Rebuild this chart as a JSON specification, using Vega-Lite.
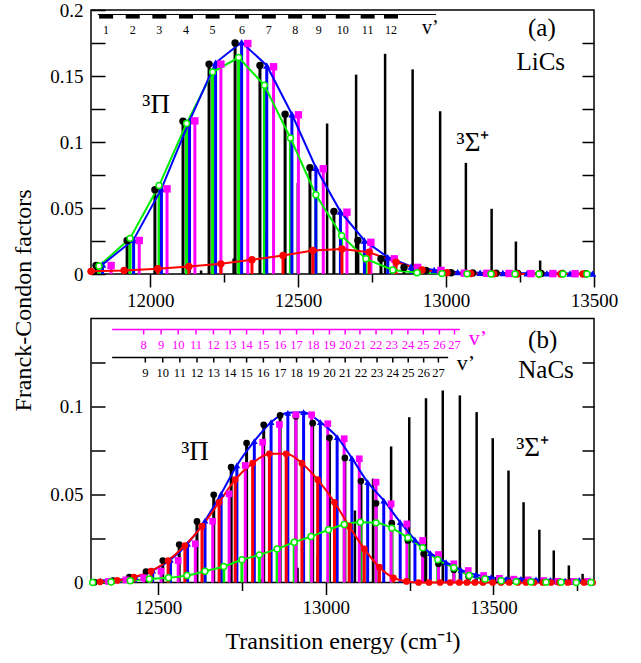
{
"$schema":"https://vega.github.io/schema/vega-lite/v6.json",
"padding":{"left":10,"top":0,"right":10,"bottom":3},
"background":"white",
"config":{"font":"Liberation Serif, Times New Roman, serif","view":{"stroke":"#000","strokeWidth":1.5},
"axis":{"domain":false,"grid":false,"tickColor":"#000","tickWidth":1.5,"labelFont":"Liberation Serif, Times New Roman, serif","labelFontSize":19,"labelColor":"#000","titleFont":"Liberation Serif, Times New Roman, serif","titleColor":"#000","titleFontWeight":"normal","labelFlush":false,"labelOverlap":false},
"text":{"font":"Liberation Serif, Times New Roman, serif","color":"#000"}},
"datasets":{
"a":[
{"s":"black","E":11817,"f":0.0064},{"s":"black","E":11922,"f":0.0254},{"s":"black","E":12016,"f":0.0638},{"s":"black","E":12111,"f":0.1158},{"s":"black","E":12199,"f":0.159},{"s":"black","E":12287,"f":0.175},{"s":"black","E":12371,"f":0.158},{"s":"black","E":12456,"f":0.121},{"s":"black","E":12540,"f":0.0805},{"s":"black","E":12621,"f":0.0473},{"s":"black","E":12702,"f":0.0254},{"s":"black","E":12780,"f":0.0115},{"s":"black","E":12858,"f":0.005},{"s":"black","E":12932,"f":0.0027},{"s":"black","E":13017,"f":0.001},{"s":"black","E":13090,"f":0.0008},{"s":"black","E":13169,"f":0.0006},{"s":"black","E":13242,"f":0.0005},{"s":"black","E":13321,"f":0.0004},{"s":"black","E":13394,"f":0.0003},{"s":"black","E":13473,"f":0.0002},
{"s":"green","E":11827,"f":0.006},{"s":"green","E":11932,"f":0.027},{"s":"green","E":12030,"f":0.067},{"s":"green","E":12123,"f":0.114},{"s":"green","E":12211,"f":0.153},{"s":"green","E":12299,"f":0.164},{"s":"green","E":12386,"f":0.143},{"s":"green","E":12474,"f":0.103},{"s":"green","E":12560,"f":0.06},{"s":"green","E":12647,"f":0.029},{"s":"green","E":12729,"f":0.0115},{"s":"green","E":12820,"f":0.003},{"s":"green","E":12902,"f":0.001},{"s":"green","E":12986,"f":0.0003},{"s":"green","E":13071,"f":0.0001},{"s":"green","E":13152,"f":0},{"s":"green","E":13233,"f":0},{"s":"green","E":13314,"f":0},{"s":"green","E":13395,"f":0},{"s":"green","E":13476,"f":0},
{"s":"blue","E":11839,"f":0.0072},{"s":"blue","E":11944,"f":0.026},{"s":"blue","E":12038,"f":0.0645},{"s":"blue","E":12133,"f":0.116},{"s":"blue","E":12221,"f":0.16},{"s":"blue","E":12309,"f":0.1756},{"s":"blue","E":12394,"f":0.158},{"s":"blue","E":12479,"f":0.121},{"s":"blue","E":12560,"f":0.0805},{"s":"blue","E":12643,"f":0.0473},{"s":"blue","E":12724,"f":0.0254},{"s":"blue","E":12803,"f":0.0127},{"s":"blue","E":12882,"f":0.0057},{"s":"blue","E":12960,"f":0.003},{"s":"blue","E":13039,"f":0.0014},{"s":"blue","E":13115,"f":0.001},{"s":"blue","E":13192,"f":0.0008},{"s":"blue","E":13274,"f":0.0006},{"s":"blue","E":13341,"f":0.0005},{"s":"blue","E":13419,"f":0.0004},{"s":"blue","E":13495,"f":0.0003},
{"s":"magenta","E":11868,"f":0.0064},{"s":"magenta","E":11963,"f":0.0254},{"s":"magenta","E":12057,"f":0.0645},{"s":"magenta","E":12151,"f":0.116},{"s":"magenta","E":12239,"f":0.159},{"s":"magenta","E":12330,"f":0.1746},{"s":"magenta","E":12417,"f":0.157},{"s":"magenta","E":12501,"f":0.1206},{"s":"magenta","E":12585,"f":0.0797},{"s":"magenta","E":12665,"f":0.0468},{"s":"magenta","E":12746,"f":0.024},{"s":"magenta","E":12825,"f":0.0115},{"s":"magenta","E":12904,"f":0.005},{"s":"magenta","E":12983,"f":0.0027},{"s":"magenta","E":13062,"f":0.0006},{"s":"magenta","E":13138,"f":0.0005},{"s":"magenta","E":13213,"f":0.0004},{"s":"magenta","E":13287,"f":0.0003},{"s":"magenta","E":13361,"f":0.0003},{"s":"magenta","E":13436,"f":0.0002},
{"s":"red","E":11800,"f":0.002},{"s":"red","E":11912,"f":0.0027},{"s":"red","E":12026,"f":0.004},{"s":"red","E":12131,"f":0.0057},{"s":"red","E":12239,"f":0.0077},{"s":"red","E":12344,"f":0.0108},{"s":"red","E":12449,"f":0.014},{"s":"red","E":12550,"f":0.0178},{"s":"red","E":12648,"f":0.019},{"s":"red","E":12740,"f":0.0165},{"s":"red","E":12831,"f":0.009},{"s":"red","E":12919,"f":0.003},{"s":"red","E":13003,"f":0.001},{"s":"red","E":13084,"f":0.0003},{"s":"red","E":13162,"f":0.0001},{"s":"red","E":13240,"f":0},{"s":"red","E":13314,"f":0},{"s":"red","E":13388,"f":0},{"s":"red","E":13463,"f":0},
{"s":"sigma","E":12172,"f":0.0027},{"s":"sigma","E":12282,"f":0.0117},{"s":"sigma","E":12391,"f":0.032},{"s":"sigma","E":12499,"f":0.069},{"s":"sigma","E":12598,"f":0.114},{"s":"sigma","E":12696,"f":0.151},{"s":"sigma","E":12794,"f":0.1668},{"s":"sigma","E":12887,"f":0.155},{"s":"sigma","E":12980,"f":0.1233},{"s":"sigma","E":13067,"f":0.0842},{"s":"sigma","E":13154,"f":0.0494},{"s":"sigma","E":13236,"f":0.0246},{"s":"sigma","E":13318,"f":0.0102},{"s":"sigma","E":13394,"f":0.0032},{"s":"sigma","E":13466,"f":0.001}
],
"av":[{"E":11851,"t":"1"},{"E":11941,"t":"2"},{"E":12031,"t":"3"},{"E":12121,"t":"4"},{"E":12211,"t":"5"},{"E":12310,"t":"6"},{"E":12401,"t":"7"},{"E":12490,"t":"8"},{"E":12570,"t":"9"},{"E":12651,"t":"10"},{"E":12735,"t":"11"},{"E":12814,"t":"12"}],
"b":[
{"s":"black","E":12310,"f":0.0002},{"s":"black","E":12365,"f":0.0011},{"s":"black","E":12414,"f":0.003},{"s":"black","E":12464,"f":0.0062},{"s":"black","E":12514,"f":0.0125},{"s":"black","E":12563,"f":0.0216},{"s":"black","E":12616,"f":0.0347},{"s":"black","E":12666,"f":0.0498},{"s":"black","E":12718,"f":0.0655},{"s":"black","E":12764,"f":0.0792},{"s":"black","E":12815,"f":0.0896},{"s":"black","E":12864,"f":0.0949},{"s":"black","E":12911,"f":0.0945},{"s":"black","E":12961,"f":0.0905},{"s":"black","E":13011,"f":0.0822},{"s":"black","E":13057,"f":0.0708},{"s":"black","E":13105,"f":0.0576},{"s":"black","E":13150,"f":0.045},{"s":"black","E":13197,"f":0.0337},{"s":"black","E":13245,"f":0.0239},{"s":"black","E":13292,"f":0.0163},{"s":"black","E":13336,"f":0.0106},{"s":"black","E":13382,"f":0.0072},{"s":"black","E":13426,"f":0.0034},{"s":"black","E":13469,"f":0.002},{"s":"black","E":13514,"f":0.0015},{"s":"black","E":13559,"f":0.0012},{"s":"black","E":13603,"f":0.001},{"s":"black","E":13645,"f":0.0008},{"s":"black","E":13690,"f":0.0006},{"s":"black","E":13732,"f":0.0005},{"s":"black","E":13776,"f":0.0004},
{"s":"green","E":12305,"f":0},{"s":"green","E":12360,"f":0.0003},{"s":"green","E":12417,"f":0.001},{"s":"green","E":12474,"f":0.002},{"s":"green","E":12531,"f":0.0027},{"s":"green","E":12586,"f":0.004},{"s":"green","E":12640,"f":0.0064},{"s":"green","E":12696,"f":0.0091},{"s":"green","E":12750,"f":0.0129},{"s":"green","E":12802,"f":0.0157},{"s":"green","E":12855,"f":0.0191},{"s":"green","E":12906,"f":0.0229},{"s":"green","E":12956,"f":0.0261},{"s":"green","E":13008,"f":0.03},{"s":"green","E":13055,"f":0.033},{"s":"green","E":13103,"f":0.0343},{"s":"green","E":13150,"f":0.0339},{"s":"green","E":13197,"f":0.0309},{"s":"green","E":13245,"f":0.0254},{"s":"green","E":13289,"f":0.0197},{"s":"green","E":13334,"f":0.0129},{"s":"green","E":13382,"f":0.0084},{"s":"green","E":13428,"f":0.004},{"s":"green","E":13475,"f":0.002},{"s":"green","E":13523,"f":0.001},{"s":"green","E":13568,"f":0.0005},{"s":"green","E":13612,"f":0.0003},{"s":"green","E":13657,"f":0.0002},{"s":"green","E":13702,"f":0.0001},{"s":"green","E":13747,"f":0},{"s":"green","E":13791,"f":0},
{"s":"blue","E":12328,"f":0.0011},{"s":"blue","E":12380,"f":0.0015},{"s":"blue","E":12432,"f":0.003},{"s":"blue","E":12484,"f":0.0068},{"s":"blue","E":12537,"f":0.0129},{"s":"blue","E":12588,"f":0.022},{"s":"blue","E":12640,"f":0.0352},{"s":"blue","E":12688,"f":0.0504},{"s":"blue","E":12735,"f":0.0665},{"s":"blue","E":12787,"f":0.0803},{"s":"blue","E":12837,"f":0.0911},{"s":"blue","E":12887,"f":0.0964},{"s":"blue","E":12934,"f":0.0968},{"s":"blue","E":12984,"f":0.0911},{"s":"blue","E":13034,"f":0.0826},{"s":"blue","E":13078,"f":0.0707},{"s":"blue","E":13125,"f":0.057},{"s":"blue","E":13173,"f":0.0466},{"s":"blue","E":13222,"f":0.0343},{"s":"blue","E":13266,"f":0.0243},{"s":"blue","E":13312,"f":0.0167},{"s":"blue","E":13359,"f":0.0115},{"s":"blue","E":13403,"f":0.0072},{"s":"blue","E":13448,"f":0.0044},{"s":"blue","E":13493,"f":0.003},{"s":"blue","E":13538,"f":0.0021},{"s":"blue","E":13582,"f":0.0021},{"s":"blue","E":13627,"f":0.0017},{"s":"blue","E":13670,"f":0.0015},{"s":"blue","E":13714,"f":0.0011},{"s":"blue","E":13756,"f":0.0015},
{"s":"magenta","E":12352,"f":0.0006},{"s":"magenta","E":12404,"f":0.0015},{"s":"magenta","E":12457,"f":0.0027},{"s":"magenta","E":12509,"f":0.0064},{"s":"magenta","E":12560,"f":0.0125},{"s":"magenta","E":12611,"f":0.022},{"s":"magenta","E":12663,"f":0.0348},{"s":"magenta","E":12712,"f":0.0504},{"s":"magenta","E":12760,"f":0.0665},{"s":"magenta","E":12812,"f":0.0797},{"s":"magenta","E":12862,"f":0.0898},{"s":"magenta","E":12911,"f":0.0953},{"s":"magenta","E":12958,"f":0.0953},{"s":"magenta","E":13006,"f":0.0902},{"s":"magenta","E":13055,"f":0.0817},{"s":"magenta","E":13100,"f":0.0703},{"s":"magenta","E":13150,"f":0.057},{"s":"magenta","E":13195,"f":0.0447},{"s":"magenta","E":13242,"f":0.0333},{"s":"magenta","E":13289,"f":0.0239},{"s":"magenta","E":13336,"f":0.0159},{"s":"magenta","E":13382,"f":0.0106},{"s":"magenta","E":13425,"f":0.0068},{"s":"magenta","E":13471,"f":0.004},{"s":"magenta","E":13518,"f":0.0024},{"s":"magenta","E":13561,"f":0.0019},{"s":"magenta","E":13604,"f":0.0015},{"s":"magenta","E":13650,"f":0.0011},{"s":"magenta","E":13692,"f":0.0007},{"s":"magenta","E":13740,"f":0.0006},{"s":"magenta","E":13781,"f":0.0006},
{"s":"red","E":12327,"f":0.0004},{"s":"red","E":12378,"f":0.0012},{"s":"red","E":12428,"f":0.003},{"s":"red","E":12479,"f":0.0065},{"s":"red","E":12530,"f":0.0125},{"s":"red","E":12580,"f":0.021},{"s":"red","E":12631,"f":0.032},{"s":"red","E":12682,"f":0.0456},{"s":"red","E":12730,"f":0.0584},{"s":"red","E":12782,"f":0.0678},{"s":"red","E":12832,"f":0.0731},{"s":"red","E":12882,"f":0.0731},{"s":"red","E":12929,"f":0.0678},{"s":"red","E":12976,"f":0.0584},{"s":"red","E":13026,"f":0.0456},{"s":"red","E":13070,"f":0.032},{"s":"red","E":13115,"f":0.0191},{"s":"red","E":13160,"f":0.0087},{"s":"red","E":13202,"f":0.0027},{"s":"red","E":13241,"f":0.0006},{"s":"red","E":13277,"f":0},{"s":"red","E":13308,"f":0},{"s":"red","E":13341,"f":0},{"s":"red","E":13371,"f":0},{"s":"red","E":13398,"f":0},{"s":"red","E":13421,"f":0},{"s":"red","E":13445,"f":0},{"s":"red","E":13469,"f":0},{"s":"red","E":13498,"f":0},{"s":"red","E":13523,"f":0},{"s":"red","E":13547,"f":0},{"s":"red","E":13573,"f":0},{"s":"red","E":13597,"f":0},{"s":"red","E":13621,"f":0},{"s":"red","E":13647,"f":0},{"s":"red","E":13672,"f":0},{"s":"red","E":13696,"f":0},{"s":"red","E":13722,"f":0},{"s":"red","E":13747,"f":0},{"s":"red","E":13770,"f":0},{"s":"red","E":13796,"f":0},
{"s":"sigma","E":12807,"f":0.002},{"s":"sigma","E":12862,"f":0.004},{"s":"sigma","E":12916,"f":0.0084},{"s":"sigma","E":12976,"f":0.0153},{"s":"sigma","E":13031,"f":0.0261},{"s":"sigma","E":13087,"f":0.0409},{"s":"sigma","E":13141,"f":0.059},{"s":"sigma","E":13195,"f":0.0773},{"s":"sigma","E":13249,"f":0.0939},{"s":"sigma","E":13299,"f":0.1047},{"s":"sigma","E":13349,"f":0.1091},{"s":"sigma","E":13400,"f":0.1063},{"s":"sigma","E":13450,"f":0.0968},{"s":"sigma","E":13498,"f":0.082},{"s":"sigma","E":13545,"f":0.0636},{"s":"sigma","E":13590,"f":0.0456},{"s":"sigma","E":13637,"f":0.03},{"s":"sigma","E":13680,"f":0.0182},{"s":"sigma","E":13725,"f":0.0097},{"s":"sigma","E":13766,"f":0.0049}
],
"bm":[{"E":12457,"t":"8"},{"E":12509,"t":"9"},{"E":12560,"t":"10"},{"E":12613,"t":"11"},{"E":12665,"t":"12"},{"E":12715,"t":"13"},{"E":12764,"t":"14"},{"E":12814,"t":"15"},{"E":12864,"t":"16"},{"E":12913,"t":"17"},{"E":12963,"t":"18"},{"E":13011,"t":"19"},{"E":13058,"t":"20"},{"E":13102,"t":"21"},{"E":13150,"t":"22"},{"E":13197,"t":"23"},{"E":13245,"t":"24"},{"E":13291,"t":"25"},{"E":13339,"t":"26"},{"E":13384,"t":"27"}],
"bk":[{"E":12462,"t":"9"},{"E":12514,"t":"10"},{"E":12565,"t":"11"},{"E":12616,"t":"12"},{"E":12666,"t":"13"},{"E":12715,"t":"14"},{"E":12764,"t":"15"},{"E":12814,"t":"16"},{"E":12864,"t":"17"},{"E":12913,"t":"18"},{"E":12963,"t":"19"},{"E":13011,"t":"20"},{"E":13058,"t":"21"},{"E":13105,"t":"22"},{"E":13153,"t":"23"},{"E":13200,"t":"24"},{"E":13246,"t":"25"},{"E":13292,"t":"26"},{"E":13336,"t":"27"}]
},
"spacing":44.5,
"bounds":"flush",
"vconcat":[
{"width":503,"height":264,
"resolve":{"axis":{"x":"independent","y":"independent"}},
"layer":[
{"data":{"name":"a"},"transform":[{"filter":"datum.s==='sigma'"}],"mark":{"type":"rule","strokeWidth":2.5,"color":"#000"},
"encoding":{"x":{"field":"E","type":"quantitative","scale":{"domain":[11800,13500],"nice":false,"zero":false},"axis":{"orient":"bottom","values":[12000,12500,13000,13500],"format":"d","tickSize":13,"labelPadding":4,"title":null}},
"y":{"field":"f","type":"quantitative","scale":{"domain":[0,0.2],"nice":false},"axis":{"orient":"left","values":[0,0.025,0.05,0.075,0.1,0.125,0.15,0.175,0.2],"format":"~g","labelExpr":"round(datum.value*1000)%50===0 ? datum.label : ''","tickSize":-14,"labelPadding":22,"title":"Franck-Condon factors","titleFontSize":24,"titleX":-68,"titleY":290,"titleAngle":-90,"titleAlign":"center","titleBaseline":"middle"}},
"y2":{"datum":0}}},
{"data":{"name":"a"},"transform":[{"filter":"datum.s!=='sigma'"}],"mark":{"type":"rule","strokeWidth":3},
"encoding":{"x":{"field":"E","type":"quantitative","scale":{"domain":[11800,13500],"nice":false,"zero":false},"axis":{"orient":"bottom","values":[12250,12750,13250],"tickSize":8,"labels":false,"title":null}},
"y":{"field":"f","type":"quantitative","scale":{"domain":[0,0.2],"nice":false},"axis":{"orient":"right","values":[0.025,0.05,0.075,0.1,0.125,0.15,0.175],"tickSize":-12,"labels":false,"title":null}},
"y2":{"datum":0},
"color":{"field":"s","type":"nominal","scale":{"domain":["black","green","blue","magenta","red"],"range":["#000000","#00ee00","#0000ff","#ff00ff","#ff0000"]},"legend":null}}},
{"data":{"name":"a"},"transform":[{"filter":"datum.s==='green'||datum.s==='blue'||datum.s==='red'"}],"mark":{"type":"line","strokeWidth":2},
"encoding":{"x":{"field":"E","type":"quantitative","scale":{"domain":[11800,13500],"nice":false,"zero":false},"axis":null},
"y":{"field":"f","type":"quantitative","scale":{"domain":[0,0.2],"nice":false},"axis":null},
"color":{"field":"s","type":"nominal","scale":{"domain":["black","green","blue","magenta","red"],"range":["#000000","#00ee00","#0000ff","#ff00ff","#ff0000"]},"legend":null}}},
{"data":{"name":"a"},"transform":[{"filter":"datum.s==='black'||datum.s==='blue'||datum.s==='magenta'||datum.s==='red'"}],"mark":{"type":"point","filled":true,"opacity":1,"size":55},
"encoding":{"x":{"field":"E","type":"quantitative","scale":{"domain":[11800,13500],"nice":false,"zero":false},"axis":null},
"y":{"field":"f","type":"quantitative","scale":{"domain":[0,0.2],"nice":false},"axis":null},
"shape":{"field":"s","type":"nominal","scale":{"domain":["black","blue","magenta","red"],"range":["circle","triangle-up","square","circle"]},"legend":null},
"color":{"field":"s","type":"nominal","scale":{"domain":["black","green","blue","magenta","red"],"range":["#000000","#00ee00","#0000ff","#ff00ff","#ff0000"]},"legend":null}}},
{"data":{"name":"a"},"transform":[{"filter":"datum.s==='green'"}],"mark":{"type":"circle","fill":"white","stroke":"#00ee00","strokeWidth":1.5,"size":35,"opacity":1},
"encoding":{"x":{"field":"E","type":"quantitative","scale":{"domain":[11800,13500],"nice":false,"zero":false},"axis":null},
"y":{"field":"f","type":"quantitative","scale":{"domain":[0,0.2],"nice":false},"axis":null}}},
{"data":{"values":[{"E":11823},{"E":12966}]},"mark":{"type":"line","color":"#000","strokeWidth":1.2},
"encoding":{"x":{"field":"E","type":"quantitative","scale":{"domain":[11800,13500],"nice":false,"zero":false},"axis":null},
"y":{"datum":0.1966,"type":"quantitative","scale":{"domain":[0,0.2],"nice":false},"axis":null}}},
{"data":{"name":"av"},"mark":{"type":"point","shape":"M-1,-0.3L1,-0.3L1,0.3L-1,0.3Z","filled":true,"color":"#000","opacity":1,"size":196},
"encoding":{"x":{"field":"E","type":"quantitative","scale":{"domain":[11800,13500],"nice":false,"zero":false},"axis":null},
"y":{"datum":0.1951,"type":"quantitative","scale":{"domain":[0,0.2],"nice":false},"axis":null}}},
{"data":{"name":"av"},"mark":{"type":"text","fontSize":12,"baseline":"middle"},
"encoding":{"x":{"field":"E","type":"quantitative","scale":{"domain":[11800,13500],"nice":false,"zero":false},"axis":null},
"y":{"datum":0.1845,"type":"quantitative","scale":{"domain":[0,0.2],"nice":false},"axis":null},"text":{"field":"t"}}},
{"data":{"values":[{"E":13324,"f":0.186,"t":"(a)"},{"E":13320,"f":0.1605,"t":"LiCs"}]},"mark":{"type":"text","fontSize":25,"baseline":"middle"},
"encoding":{"x":{"field":"E","type":"quantitative","scale":{"domain":[11800,13500],"nice":false,"zero":false},"axis":null},
"y":{"field":"f","type":"quantitative","scale":{"domain":[0,0.2],"nice":false},"axis":null},"text":{"field":"t"}}},
{"data":{"values":[{"E":12020,"f":0.1277,"t":"³Π"},{"E":13091,"f":0.0996,"t":"³Σ⁺"}]},"mark":{"type":"text","fontSize":27,"baseline":"middle"},
"encoding":{"x":{"field":"E","type":"quantitative","scale":{"domain":[11800,13500],"nice":false,"zero":false},"axis":null},
"y":{"field":"f","type":"quantitative","scale":{"domain":[0,0.2],"nice":false},"axis":null},"text":{"field":"t"}}},
{"data":{"values":[{"E":12947,"f":0.186,"t":"v’"}]},"mark":{"type":"text","fontSize":20,"baseline":"middle"},
"encoding":{"x":{"field":"E","type":"quantitative","scale":{"domain":[11800,13500],"nice":false,"zero":false},"axis":null},
"y":{"field":"f","type":"quantitative","scale":{"domain":[0,0.2],"nice":false},"axis":null},"text":{"field":"t"}}}
]},
{"width":503,"height":264,
"resolve":{"axis":{"x":"independent","y":"independent"}},
"layer":[
{"data":{"name":"b"},"transform":[{"filter":"datum.s==='sigma'"}],"mark":{"type":"rule","strokeWidth":2.5,"color":"#000"},
"encoding":{"x":{"field":"E","type":"quantitative","scale":{"domain":[12300,13800],"nice":false,"zero":false},"axis":{"orient":"bottom","values":[12500,13000,13500],"format":"d","tickSize":12,"labelPadding":4,"title":"Transition energy (cm⁻¹)","titleFontSize":24,"titlePadding":12}},
"y":{"field":"f","type":"quantitative","scale":{"domain":[0,0.15],"nice":false},"axis":{"orient":"left","values":[0,0.025,0.05,0.075,0.1,0.125],"format":"~g","labelExpr":"round(datum.value*1000)%50===0 ? datum.label : ''","tickSize":-14,"labelPadding":22,"title":null}},
"y2":{"datum":0}}},
{"data":{"name":"b"},"transform":[{"filter":"datum.s!=='sigma'"}],"mark":{"type":"rule","strokeWidth":3},
"encoding":{"x":{"field":"E","type":"quantitative","scale":{"domain":[12300,13800],"nice":false,"zero":false},"axis":{"orient":"bottom","values":[12750,13250,13750],"tickSize":8,"labels":false,"title":null}},
"y":{"field":"f","type":"quantitative","scale":{"domain":[0,0.15],"nice":false},"axis":{"orient":"right","values":[0.025,0.05,0.075,0.1,0.125],"tickSize":-12,"labels":false,"title":null}},
"y2":{"datum":0},
"color":{"field":"s","type":"nominal","scale":{"domain":["black","green","blue","magenta","red"],"range":["#000000","#00ee00","#0000ff","#ff00ff","#ff0000"]},"legend":null}}},
{"data":{"name":"b"},"transform":[{"filter":"datum.s==='green'||datum.s==='blue'||datum.s==='red'"}],"mark":{"type":"line","strokeWidth":2,"interpolate":"monotone"},
"encoding":{"x":{"field":"E","type":"quantitative","scale":{"domain":[12300,13800],"nice":false,"zero":false},"axis":null},
"y":{"field":"f","type":"quantitative","scale":{"domain":[0,0.15],"nice":false},"axis":null},
"color":{"field":"s","type":"nominal","scale":{"domain":["black","green","blue","magenta","red"],"range":["#000000","#00ee00","#0000ff","#ff00ff","#ff0000"]},"legend":null}}},
{"data":{"name":"b"},"transform":[{"filter":"datum.s==='black'||datum.s==='blue'||datum.s==='magenta'||datum.s==='red'"}],"mark":{"type":"point","filled":true,"opacity":1,"size":45},
"encoding":{"x":{"field":"E","type":"quantitative","scale":{"domain":[12300,13800],"nice":false,"zero":false},"axis":null},
"y":{"field":"f","type":"quantitative","scale":{"domain":[0,0.15],"nice":false},"axis":null},
"shape":{"field":"s","type":"nominal","scale":{"domain":["black","blue","magenta","red"],"range":["circle","triangle-up","square","circle"]},"legend":null},
"color":{"field":"s","type":"nominal","scale":{"domain":["black","green","blue","magenta","red"],"range":["#000000","#00ee00","#0000ff","#ff00ff","#ff0000"]},"legend":null}}},
{"data":{"name":"b"},"transform":[{"filter":"datum.s==='green'"}],"mark":{"type":"circle","fill":"white","stroke":"#00ee00","strokeWidth":1.5,"size":35,"opacity":1},
"encoding":{"x":{"field":"E","type":"quantitative","scale":{"domain":[12300,13800],"nice":false,"zero":false},"axis":null},
"y":{"field":"f","type":"quantitative","scale":{"domain":[0,0.15],"nice":false},"axis":null}}},
{"data":{"values":[{"E":12363},{"E":13400}]},"mark":{"type":"line","color":"#ff00ff","strokeWidth":1.5},
"encoding":{"x":{"field":"E","type":"quantitative","scale":{"domain":[12300,13800],"nice":false,"zero":false},"axis":null},
"y":{"datum":0.1438,"type":"quantitative","scale":{"domain":[0,0.15],"nice":false},"axis":null}}},
{"data":{"name":"bm"},"mark":{"type":"rule","color":"#ff00ff","strokeWidth":1.5},
"encoding":{"x":{"field":"E","type":"quantitative","scale":{"domain":[12300,13800],"nice":false,"zero":false},"axis":null},
"y":{"datum":0.1438,"type":"quantitative","scale":{"domain":[0,0.15],"nice":false},"axis":null},"y2":{"datum":0.1409}}},
{"data":{"name":"bm"},"mark":{"type":"text","fontSize":12.5,"baseline":"middle","color":"#ff00ff"},
"encoding":{"x":{"field":"E","type":"quantitative","scale":{"domain":[12300,13800],"nice":false,"zero":false},"axis":null},
"y":{"datum":0.1347,"type":"quantitative","scale":{"domain":[0,0.15],"nice":false},"axis":null},"text":{"field":"t"}}},
{"data":{"values":[{"E":12363},{"E":13365}]},"mark":{"type":"line","color":"#000","strokeWidth":1.5},
"encoding":{"x":{"field":"E","type":"quantitative","scale":{"domain":[12300,13800],"nice":false,"zero":false},"axis":null},
"y":{"datum":0.1278,"type":"quantitative","scale":{"domain":[0,0.15],"nice":false},"axis":null}}},
{"data":{"name":"bk"},"mark":{"type":"rule","color":"#000","strokeWidth":1.5},
"encoding":{"x":{"field":"E","type":"quantitative","scale":{"domain":[12300,13800],"nice":false,"zero":false},"axis":null},
"y":{"datum":0.1278,"type":"quantitative","scale":{"domain":[0,0.15],"nice":false},"axis":null},"y2":{"datum":0.125}}},
{"data":{"name":"bk"},"mark":{"type":"text","fontSize":12.5,"baseline":"middle","color":"#000"},
"encoding":{"x":{"field":"E","type":"quantitative","scale":{"domain":[12300,13800],"nice":false,"zero":false},"axis":null},
"y":{"datum":0.1193,"type":"quantitative","scale":{"domain":[0,0.15],"nice":false},"axis":null},"text":{"field":"t"}}},
{"data":{"values":[{"E":13454,"f":0.1392,"t":"v’"}]},"mark":{"type":"text","fontSize":22,"baseline":"middle","color":"#ff00ff"},
"encoding":{"x":{"field":"E","type":"quantitative","scale":{"domain":[12300,13800],"nice":false,"zero":false},"axis":null},
"y":{"field":"f","type":"quantitative","scale":{"domain":[0,0.15],"nice":false},"axis":null},"text":{"field":"t"}}},
{"data":{"values":[{"E":13418,"f":0.125,"t":"v’"}]},"mark":{"type":"text","fontSize":22,"baseline":"middle"},
"encoding":{"x":{"field":"E","type":"quantitative","scale":{"domain":[12300,13800],"nice":false,"zero":false},"axis":null},
"y":{"field":"f","type":"quantitative","scale":{"domain":[0,0.15],"nice":false},"axis":null},"text":{"field":"t"}}},
{"data":{"values":[{"E":13647,"f":0.138,"t":"(b)"},{"E":13657,"f":0.1205,"t":"NaCs"}]},"mark":{"type":"text","fontSize":25,"baseline":"middle"},
"encoding":{"x":{"field":"E","type":"quantitative","scale":{"domain":[12300,13800],"nice":false,"zero":false},"axis":null},
"y":{"field":"f","type":"quantitative","scale":{"domain":[0,0.15],"nice":false},"axis":null},"text":{"field":"t"}}},
{"data":{"values":[{"E":12610,"f":0.0744,"t":"³Π"},{"E":13617,"f":0.0767,"t":"³Σ⁺"}]},"mark":{"type":"text","fontSize":27,"baseline":"middle"},
"encoding":{"x":{"field":"E","type":"quantitative","scale":{"domain":[12300,13800],"nice":false,"zero":false},"axis":null},
"y":{"field":"f","type":"quantitative","scale":{"domain":[0,0.15],"nice":false},"axis":null},"text":{"field":"t"}}}
]}
]}
